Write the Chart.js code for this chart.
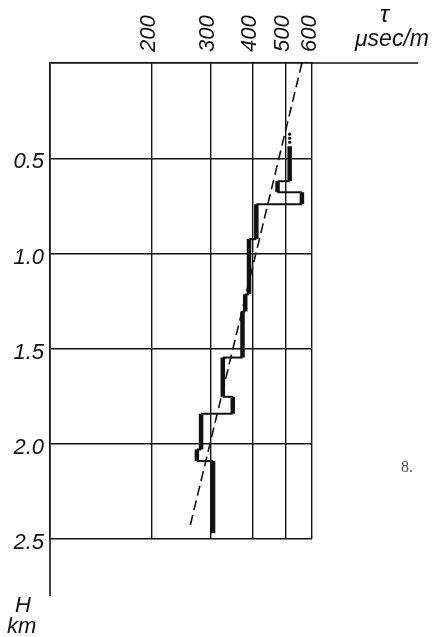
<!DOCTYPE html>
<html>
<head>
<meta charset="utf-8">
<script src="https://cdn.jsdelivr.net/npm/chart.js@4/dist/chart.umd.min.js"></script>
<style>
  html, body { margin: 0; padding: 0; background: #fff; }
  #wrap { position: relative; width: 436px; height: 637px; overflow: hidden; }
  canvas { position: absolute; left: 0; top: 0; }
  .lbl { position: absolute; font-family: "Liberation Sans", Arial, sans-serif; font-style: italic;
         color: #111; line-height: 1; white-space: nowrap; }
</style>
</head>
<body>
<div id="wrap">
  <canvas id="c" width="436" height="637"></canvas>
  <div class="lbl" style="left:380px;top:2px;font-size:24px;">τ</div>
  <div class="lbl" style="left:355px;top:27px;font-size:23px;">μsec/m</div>
  <div class="lbl" style="left:15px;top:594px;font-size:22px;">H</div>
  <div class="lbl" style="left:7px;top:615px;font-size:22px;">km</div>
  <div class="lbl" style="left:401px;top:459px;font-size:16px;font-family:'Liberation Serif',serif;font-style:normal;color:#555;">8.</div>
</div>
<script>
// Axis ticks: slowness τ (μs/m, logarithmic) along the top, depth H (km) down the side
const TAU_TICKS = [100, 200, 300, 400, 500, 600];
const TAU_TICK_LABELS = ['', '200', '300', '400', '500', '600'];
const DEPTH_TICKS = [0, 0.5, 1.0, 1.5, 2.0, 2.5];
const DEPTH_TICK_LABELS = ['', '0.5', '1.0', '1.5', '2.0', '2.5'];

// Logged slowness profile, one value per corner of the step curve
const profileTau   = [515, 515, 474, 474, 560, 560, 410, 410, 390, 390, 380, 380, 373, 373, 326, 326, 349, 349, 281, 281, 273, 273, 305, 305];
const profileDepth = [0.437, 0.621, 0.621, 0.679, 0.679, 0.742, 0.742, 0.925, 0.925, 1.215, 1.215, 1.305, 1.305, 1.547, 1.547, 1.753, 1.753, 1.842, 1.842, 2.03, 2.03, 2.09, 2.09, 2.47];

// Isolated readings above the continuous log
const dotTau   = [515, 515, 515];
const dotDepth = [0.374, 0.395, 0.416];

// Straight trend through the profile
const trendTau   = [560, 260];
const trendDepth = [0, 2.44];

// How far the frame lines run past the plotting area
const FRAME_DEPTH_END = 2.8;
const FRAME_TAU_END = 1240;

const INK = '#111';
const FONT = { family: "'Liberation Sans', Arial, sans-serif", size: 22, style: 'italic' };

const pts = (xs, ys) => xs.map((v, i) => ({ x: v, y: ys[i] }));

const frameLines = {
  id: 'frameLines',
  afterDraw(chart) {
    const { ctx, scales: { x, y } } = chart;
    ctx.save();
    ctx.strokeStyle = INK;
    ctx.lineWidth = 1.6;
    ctx.beginPath();
    const x0 = x.getPixelForValue(TAU_TICKS[0]);
    ctx.moveTo(x0, y.getPixelForValue(DEPTH_TICKS[DEPTH_TICKS.length - 1]));
    ctx.lineTo(x0, y.getPixelForValue(FRAME_DEPTH_END));
    const yTop = y.getPixelForValue(DEPTH_TICKS[0]);
    ctx.moveTo(x.getPixelForValue(TAU_TICKS[TAU_TICKS.length - 1]), yTop);
    ctx.lineTo(x.getPixelForValue(FRAME_TAU_END), yTop);
    ctx.stroke();
    ctx.restore();
  }
};

new Chart(document.getElementById('c'), {
  type: 'scatter',
  data: {
    datasets: [
      {
        label: 'profile',
        data: pts(profileTau, profileDepth),
        showLine: true,
        borderColor: INK,
        borderWidth: 2,
        borderJoinStyle: 'miter',
        pointRadius: 0,
        segment: {
          borderWidth: c => (c.p0.parsed.x === c.p1.parsed.x ? 4.5 : 2)
        }
      },
      {
        label: 'readings',
        data: pts(dotTau, dotDepth),
        showLine: false,
        pointRadius: 1.6,
        pointBackgroundColor: INK,
        pointBorderWidth: 0
      },
      {
        label: 'trend',
        data: pts(trendTau, trendDepth),
        showLine: true,
        borderColor: INK,
        borderWidth: 1.6,
        borderDash: [10, 5],
        pointRadius: 0
      }
    ]
  },
  options: {
    responsive: false,
    devicePixelRatio: 1,
    animation: false,
    events: [],
    layout: { padding: { left: 0, top: 0, right: 124, bottom: 98 } },
    plugins: { legend: { display: false }, tooltip: { enabled: false } },
    scales: {
      x: {
        type: 'logarithmic',
        position: 'top',
        min: TAU_TICKS[0],
        max: TAU_TICKS[TAU_TICKS.length - 1],
        afterBuildTicks: s => { s.ticks = TAU_TICKS.map(v => ({ value: v })); },
        afterFit: s => { s.height = 63; },
        grid: { color: INK, lineWidth: 1.4, drawTicks: false },
        border: { display: true, color: INK, width: 1.6 },
        ticks: {
          autoSkip: false,
          minRotation: 90,
          maxRotation: 90,
          padding: 11,
          labelOffset: 24,
          color: INK,
          font: FONT,
          callback: (v, i) => TAU_TICK_LABELS[i]
        }
      },
      y: {
        type: 'linear',
        reverse: true,
        min: DEPTH_TICKS[0],
        max: DEPTH_TICKS[DEPTH_TICKS.length - 1],
        afterBuildTicks: s => { s.ticks = DEPTH_TICKS.map(v => ({ value: v })); },
        afterFit: s => { s.width = 50; },
        grid: { color: INK, lineWidth: 1.4, drawTicks: false },
        border: { display: true, color: INK, width: 1.6 },
        ticks: {
          padding: 6,
          labelOffset: 4,
          color: INK,
          font: FONT,
          callback: (v, i) => DEPTH_TICK_LABELS[i]
        }
      }
    }
  },
  plugins: [frameLines]
});
</script>
</body>
</html>
